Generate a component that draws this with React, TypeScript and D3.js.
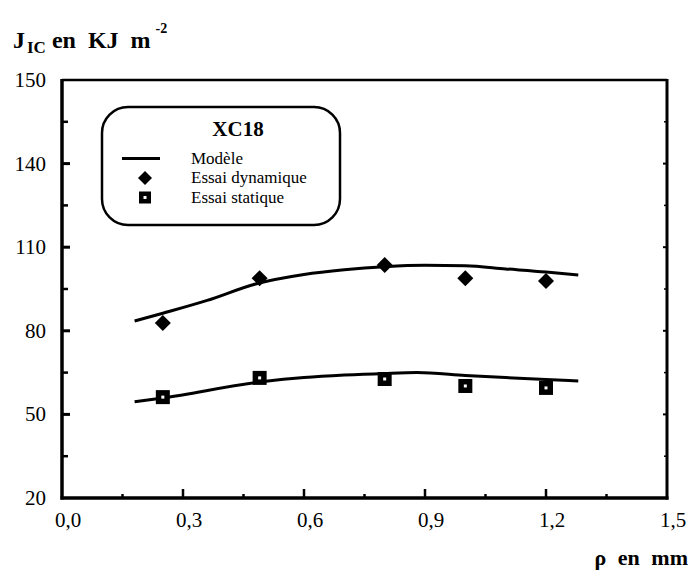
import React from "react";
import * as d3 from "d3";

const yTickValues = [20, 50, 80, 110, 140, 170];
const yTickLabels = ["20", "50", "80", "110", "140", "150"];
const xTickValues = [0, 0.3, 0.6, 0.9, 1.2, 1.5];
const xTickLabels = ["0,0", "0,3", "0,6", "0,9", "1,2", "1,5"];

const dynX = [0.25, 0.49, 0.8, 1.0, 1.2];
const dynY = [82.8, 98.9, 103.6, 98.9, 97.9];
const statX = [0.25, 0.49, 0.8, 1.0, 1.2];
const statY = [56.2, 63.1, 62.7, 60.2, 59.5];

const modelDynX = [0.18, 0.25, 0.36, 0.48, 0.6, 0.7, 0.8, 0.9, 1.0, 1.1, 1.2, 1.28];
const modelDynY = [83.5, 86.3, 90.9, 96.8, 100.2, 101.9, 103.0, 103.5, 103.3, 102.2, 101.1, 100.0];
const modelStatX = [0.18, 0.25, 0.5, 0.6, 0.7, 0.8, 0.88, 1.0, 1.1, 1.2, 1.28];
const modelStatY = [54.5, 55.9, 61.8, 63.2, 64.1, 64.7, 65.0, 64.0, 63.2, 62.5, 62.0];

const legendTitle = "XC18";
const legendLabels = ["Modèle", "Essai dynamique", "Essai statique"];

const FONT = "'Liberation Serif', 'DejaVu Serif', serif";

export default function App() {
  const L = 62, R = 667, T = 80, B = 498;
  const x = d3.scaleLinear().domain([0, 1.5]).range([L, R]);
  const y = d3.scaleLinear().domain([20, 170]).range([B, T]);
  const mkPath = (xs: number[], ys: number[]) =>
    d3
      .line<[number, number]>()
      .x((d) => x(d[0]))
      .y((d) => y(d[1]))
      .curve(d3.curveMonotoneX)(xs.map((v, i) => [v, ys[i]] as [number, number])) || "";

  const yMinor = yTickValues.slice(0, -1).map((v, i) => (v + yTickValues[i + 1]) / 2);
  const xMinor = xTickValues.slice(0, -1).map((v, i) => (v + xTickValues[i + 1]) / 2);

  const diamond = (cx: number, cy: number, r: number) =>
    `M${cx},${cy - r}L${cx + r},${cy}L${cx},${cy + r}L${cx - r},${cy}Z`;

  const legY = [163.5, 183, 202.5];

  return (
    <div style={{ position: "absolute", left: 0, top: 0, fontFamily: FONT }}>
      <svg width={690} height={571} style={{ display: "block", background: "#fff" }}>
        <g fontFamily={FONT}>
          {/* title */}
          <text x={13} y={48} fontSize={24} fontWeight="bold" wordSpacing={6}>
            J
            <tspan fontSize={17} dy={5} dx={2}>IC</tspan>
            <tspan dy={-5} dx={6}>en KJ m</tspan>
            <tspan fontSize={14} dy={-15} dx={5}>-2</tspan>
          </text>

          {/* frame */}
          <line x1={L} x2={R} y1={T} y2={T} stroke="#000" strokeWidth={2.5} />
          <line x1={L} x2={L} y1={T - 1} y2={B + 1.5} stroke="#000" strokeWidth={3.5} />
          <line x1={L - 1.5} x2={R + 1.5} y1={B} y2={B} stroke="#000" strokeWidth={3.5} />
          <line x1={R} x2={R} y1={T - 1} y2={B + 1.5} stroke="#000" strokeWidth={3} />

          {/* y ticks */}
          {yTickValues.map((v, i) => (
            <g key={"yt" + i}>
              {i > 0 && i < yTickValues.length - 1 && (
                <>
                  <line x1={L} x2={L + 8} y1={y(v)} y2={y(v)} stroke="#000" strokeWidth={3} />
                  <line x1={R} x2={R - 4} y1={y(v)} y2={y(v)} stroke="#000" strokeWidth={2} />
                </>
              )}
              <text x={46} y={y(v) + 7} fontSize={21} textAnchor="end">
                {yTickLabels[i]}
              </text>
            </g>
          ))}
          {yMinor.map((v, i) => (
            <g key={"ym" + i}>
              <line x1={L} x2={L + 6} y1={y(v)} y2={y(v)} stroke="#000" strokeWidth={2.5} />
              <line x1={R} x2={R - 3} y1={y(v)} y2={y(v)} stroke="#000" strokeWidth={1.5} />
            </g>
          ))}

          {/* x ticks */}
          {xTickValues.map((v, i) => (
            <g key={"xt" + i}>
              {i > 0 && i < xTickValues.length - 1 && (
                <line x1={x(v)} x2={x(v)} y1={B} y2={B - 9} stroke="#000" strokeWidth={2.5} />
              )}
              <text x={x(v) + 6} y={527} fontSize={21} textAnchor="middle">
                {xTickLabels[i]}
              </text>
            </g>
          ))}
          {xMinor.map((v, i) => (
            <line key={"xm" + i} x1={x(v)} x2={x(v)} y1={B} y2={B - 4} stroke="#000" strokeWidth={2.5} />
          ))}
          <text x={688} y={565} fontSize={22} fontWeight="bold" textAnchor="end" wordSpacing={6}>
            ρ  en mm
          </text>

          {/* model lines */}
          <path d={mkPath(modelDynX, modelDynY)} fill="none" stroke="#000" strokeWidth={3} />
          <path d={mkPath(modelStatX, modelStatY)} fill="none" stroke="#000" strokeWidth={3} />

          {/* dynamic points */}
          {dynX.map((v, i) => (
            <path key={"d" + i} d={diamond(x(v), y(dynY[i]), 8)} fill="#000" />
          ))}
          {/* static points */}
          {statX.map((v, i) => (
            <g key={"s" + i}>
              <rect x={x(v) - 7} y={y(statY[i]) - 7} width={14} height={14} fill="#000" />
              <rect x={x(v) - 1.5} y={y(statY[i]) - 1.5} width={3} height={3} fill="#fff" />
            </g>
          ))}

          {/* legend */}
          <rect x={102} y={107} width={238} height={118} rx={26} ry={26} fill="#fff" stroke="#000" strokeWidth={2.5} />
          <text x={238} y={136} fontSize={21} fontWeight="bold" textAnchor="middle">
            {legendTitle}
          </text>
          <line x1={122} x2={160} y1={legY[0] - 5} y2={legY[0] - 5} stroke="#000" strokeWidth={3} />
          <path d={diamond(145, legY[1] - 5, 7)} fill="#000" />
          <rect x={139} y={legY[2] - 11} width={12} height={12} fill="#000" />
          <rect x={143.5} y={legY[2] - 6.5} width={3} height={3} fill="#fff" />
          {legendLabels.map((t, i) => (
            <text key={"l" + i} x={191} y={legY[i]} fontSize={17}>
              {t}
            </text>
          ))}
        </g>
      </svg>
    </div>
  );
}
